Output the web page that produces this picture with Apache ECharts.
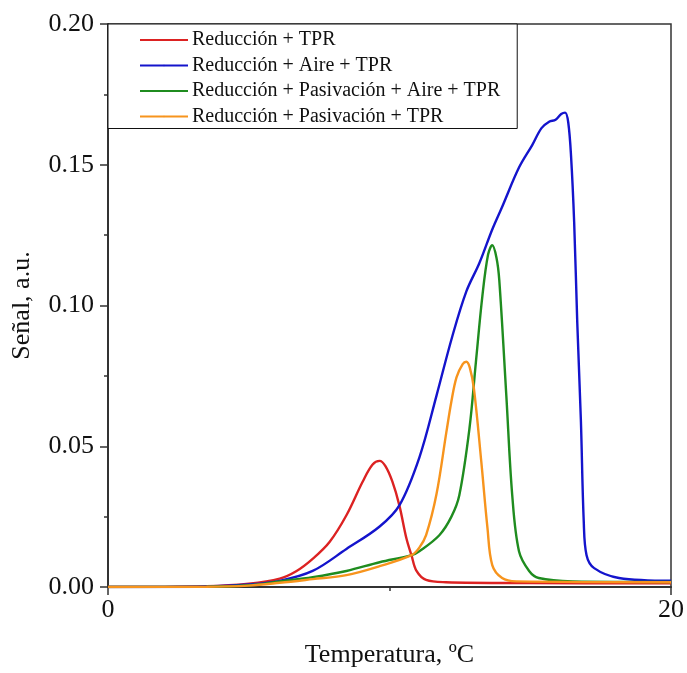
<!DOCTYPE html>
<html>
<head>
<meta charset="utf-8">
<script src="https://cdn.jsdelivr.net/npm/echarts@6.0.0/dist/echarts.min.js"></script>
<style>
  html, body { margin: 0; padding: 0; background: #fff; }
  #chart { width: 687px; height: 673px; }
</style>
</head>
<body>
<div id="chart"></div>
<script>
// series names
const names = [
  'Reducción + TPR',
  'Reducción + Aire + TPR',
  'Reducción + Pasivación + Aire + TPR',
  'Reducción + Pasivación + TPR'
];
const colors = ['#dc2222', '#1414cc', '#1f8c1f', '#f7941d'];

// temperature / signal
const redT = [0, 3.5, 5, 6.1, 6.7, 7.27, 7.87, 8.47, 9.05, 9.4, 9.65, 9.85, 10.1, 10.35, 10.6, 10.78, 10.96, 11.3, 12, 15, 20];
const redS = [0, 0.0003, 0.0012, 0.003, 0.0057, 0.010, 0.016, 0.0255, 0.0375, 0.0435, 0.0448, 0.043, 0.0375, 0.029, 0.0173, 0.0113, 0.0057, 0.0025, 0.0017, 0.0014, 0.0013];

const blueT = [0, 3.5, 5, 6.1, 7.27, 8.47, 9.65, 10.35, 11.06, 11.67, 12.23, 12.73, 13.19, 13.65, 14.0, 14.6, 15.07, 15.4, 15.67, 15.9, 16.1, 16.24, 16.35, 16.45, 16.56, 16.67, 16.8, 16.9, 17.0, 17.27, 18.15, 20];
const blueS = [0, 0.0002, 0.0009, 0.0022, 0.0057, 0.0135, 0.0215, 0.029, 0.046, 0.068, 0.089, 0.105, 0.115, 0.127, 0.135, 0.149, 0.157, 0.163, 0.1653, 0.166, 0.168, 0.1685, 0.165, 0.153, 0.1296, 0.094, 0.0588, 0.0234, 0.0113, 0.0067, 0.0032, 0.0022];

const greenT = [0, 3.5, 5, 6.1, 7.27, 8.47, 9.65, 10.78, 11.06, 11.77, 12.2, 12.48, 12.84, 13.07, 13.3, 13.5, 13.65, 13.8, 13.9, 14.15, 14.36, 14.6, 14.96, 15.3, 16.5, 20];
const greenS = [0, 0.0001, 0.0006, 0.002, 0.0035, 0.0057, 0.0088, 0.0113, 0.0127, 0.0184, 0.025, 0.0326, 0.0563, 0.080, 0.1034, 0.118, 0.1214, 0.117, 0.109, 0.068, 0.0326, 0.0127, 0.0057, 0.0032, 0.002, 0.0018];

const orangeT = [0, 3.5, 5, 6.1, 7.27, 8.47, 9.65, 10.78, 11.06, 11.3, 11.67, 12.02, 12.2, 12.38, 12.6, 12.73, 12.85, 13.0, 13.26, 13.48, 13.65, 14.0, 14.5, 20];
const orangeS = [0, 0.0001, 0.0005, 0.0015, 0.0028, 0.0042, 0.0074, 0.0113, 0.014, 0.0184, 0.033, 0.055, 0.066, 0.0745, 0.0792, 0.080, 0.078, 0.0704, 0.0446, 0.021, 0.0078, 0.0032, 0.002, 0.0017];

const seriesT = [redT, blueT, greenT, orangeT];
const seriesS = [redS, blueS, greenS, orangeS];

const font = '"Liberation Serif", "Times New Roman", serif';

const chart = echarts.init(document.getElementById('chart'));

const option = {
  animation: false,
  grid: {
    left: 108,
    right: 15,
    top: 24,
    bottom: 84,
    show: true,
    borderColor: '#333',
    borderWidth: 1.5
  },
  legend: {
    orient: 'vertical',
    left: 108,
    top: 24,
    padding: [5, 17, 1, 31],
    itemWidth: 48,
    itemHeight: 2,
    itemGap: 3.5,
    backgroundColor: '#fff',
    borderColor: '#111',
    borderWidth: 1,
    textStyle: {
      fontFamily: font,
      fontSize: 20,
      color: '#111',
      lineHeight: 22,
      padding: [0, 0, 0, -1]
    },
    data: names
  },
  xAxis: {
    type: 'value',
    min: 0,
    max: 20,
    interval: 20,
    name: 'Temperatura, ºC',
    nameLocation: 'middle',
    nameGap: 55,
    nameTextStyle: { fontFamily: font, fontSize: 26, color: '#111' },
    axisLine: { lineStyle: { color: '#333', width: 2 } },
    axisTick: { length: 8, lineStyle: { color: '#333', width: 1.5 } },
    minorTick: { show: true, splitNumber: 2, length: 4, lineStyle: { color: '#333', width: 1.5 } },
    axisLabel: { fontFamily: font, fontSize: 26, color: '#111', margin: 10 },
    splitLine: { show: false }
  },
  yAxis: {
    type: 'value',
    min: 0,
    max: 0.2,
    interval: 0.05,
    name: 'Señal, a.u.',
    nameLocation: 'middle',
    nameGap: 73,
    nameTextStyle: { fontFamily: font, fontSize: 26, color: '#111' },
    axisLine: { show: true, lineStyle: { color: '#333', width: 2 } },
    axisTick: { show: true, length: 8, lineStyle: { color: '#333', width: 1.5 } },
    minorTick: { show: true, splitNumber: 2, length: 4, lineStyle: { color: '#333', width: 1.5 } },
    axisLabel: {
      fontFamily: font,
      fontSize: 26,
      color: '#111',
      margin: 14,
      formatter: (v) => v.toFixed(2)
    },
    splitLine: { show: false }
  },
  series: names.map((name, i) => ({
    name: name,
    type: 'line',
    data: seriesT[i].map((t, j) => [t, seriesS[i][j]]),
    smooth: 0.35,
    symbol: 'none',
    lineStyle: { color: colors[i], width: 2.4 },
    itemStyle: { color: colors[i] }
  }))
};

chart.setOption(option);
</script>
</body>
</html>
